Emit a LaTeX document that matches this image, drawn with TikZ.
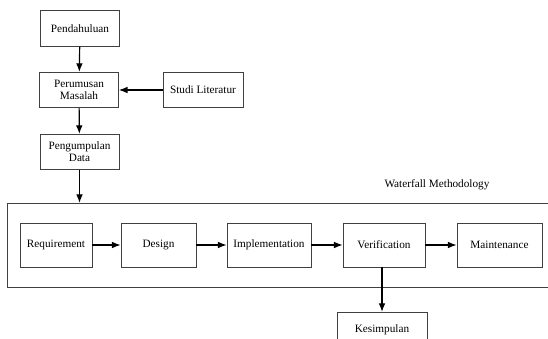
\documentclass[tikz,border=0pt]{standalone}
\usepackage{fontspec}
\setmainfont{Liberation Serif}
\usetikzlibrary{arrows.meta}

\begin{document}
\begin{tikzpicture}[
x=0.03cm, y=-0.03cm,
MyBox/.style={draw=black!75,line width=0.6pt,align=center,inner sep=1pt,font=\fontsize{9.6}{10.5}\selectfont},
SmallBox/.style={MyBox,minimum height=1.06cm},
StepBox/.style={MyBox,minimum height=1.32cm},
Flow/.style={-{Latex[length=2.6mm,width=2mm]},line width=1pt}
]
\useasboundingbox (0,0) rectangle (548,339);

% upper column
\node[SmallBox,minimum width=2.37cm] (pendahuluan) at (80,28.5) {Pendahuluan};
\node[SmallBox,minimum width=2.37cm] (perumusan) at (79,90) {Perumusan\\Masalah};
\node[SmallBox,minimum width=2.4cm] (studi) at (203,90) {Studi Literatur};
\node[SmallBox,minimum width=2.37cm] (pengumpulan) at (79.5,152) {Pengumpulan\\Data};

% waterfall frame, open to the right
\draw[draw=black!75,line width=0.7pt] (548,203) -- (7,203) -- (7,287.5) -- (548,287.5);
\node[font=\fontsize{9.6}{10.5}\selectfont] (waterfall) at (437,185) {Waterfall Methodology};
\coordinate (WTop) at (79.5,203);

% waterfall steps
\node[StepBox,minimum width=2.16cm] (requirement) at (56,245) {Requirement};
\node[StepBox,minimum width=2.25cm] (design) at (158.5,245) {Design};
\node[StepBox,minimum width=2.52cm] (implementation) at (269,245) {Implementation};
\node[StepBox,minimum width=2.46cm] (verification) at (384,245) {Verification};
\node[StepBox,minimum width=2.55cm] (maintenance) at (499.5,245) {Maintenance};

\node[SmallBox,minimum width=2.7cm] (kesimpulan) at (382,330) {Kesimpulan};

\draw[Flow] (pendahuluan) -- (perumusan);
\draw[Flow] (studi) -- (perumusan);
\draw[Flow] (perumusan) -- (pengumpulan);
\draw[Flow] (pengumpulan) -- (WTop);
\draw[Flow] (requirement) -- (design);
\draw[Flow] (design) -- (implementation);
\draw[Flow] (implementation) -- (verification);
\draw[Flow] (verification) -- (maintenance);
\draw[Flow] (verification.south -| kesimpulan.north) -- (kesimpulan);

\end{tikzpicture}
\end{document}
